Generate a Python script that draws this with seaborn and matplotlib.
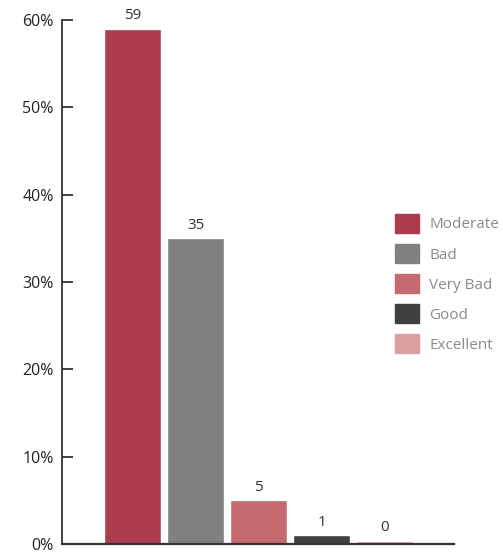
import pandas as pd
import numpy as np
import matplotlib.pyplot as plt
import seaborn as sns

categories = ["Moderate", "Bad", "Very Bad", "Good", "Excellent"]
shares = [59, 35, 5, 1, 0.35]
labels = ["59", "35", "5", "1", "0"]
colors = ["#AD3D4E", "#808080", "#C46A6E", "#404040", "#DBA0A0"]
yticks = [0, 10, 20, 30, 40, 50, 60]

sns.set_style("white")
plt.rcParams['font.family'] = ['Open Sans', 'DejaVu Sans']

df = pd.DataFrame({"quality": categories, "share": shares})

fig = plt.figure(figsize=(5.03, 5.54), dpi=100)
ax = fig.add_axes([0.123, 0.018, 0.78, 0.946])

sns.barplot(data=df, x="quality", y="share", hue="quality", palette=colors,
            order=categories, hue_order=categories, dodge=False, width=0.9,
            saturation=1, legend=False, ax=ax)

# value labels on top of the bars
for bars, lab in zip(ax.containers, labels):
    ax.bar_label(bars, labels=[lab], padding=4, fontsize=11, color="#333333")

ax.set_xlim(-1.12, 5.1)
ax.set_ylim(0, 60)
ax.set_yticks(yticks)
ax.set_yticklabels([f"{t}%" for t in yticks], fontsize=11.5, color="#222222")
ax.set_xticks([])
ax.set_xlabel("")
ax.set_ylabel("")
ax.tick_params(axis="y", direction="in", length=8, width=1.3, color="#333333", pad=6, left=True)

sns.despine(ax=ax)
ax.spines["left"].set_color("#333333")
ax.spines["left"].set_linewidth(1.3)
ax.spines["bottom"].set_color("#333333")
ax.spines["bottom"].set_linewidth(1.6)

handles = [plt.Rectangle((0, 0), 1, 1, color=c) for c in colors]
leg = fig.legend(handles, categories, loc="center left", bbox_to_anchor=(0.758, 0.488),
                 frameon=False, fontsize=11, handlelength=1.55, handleheight=1.55,
                 labelspacing=0.72, handletextpad=0.7, labelcolor="#8a8a8a")

fig.savefig("out.png", dpi=100)
